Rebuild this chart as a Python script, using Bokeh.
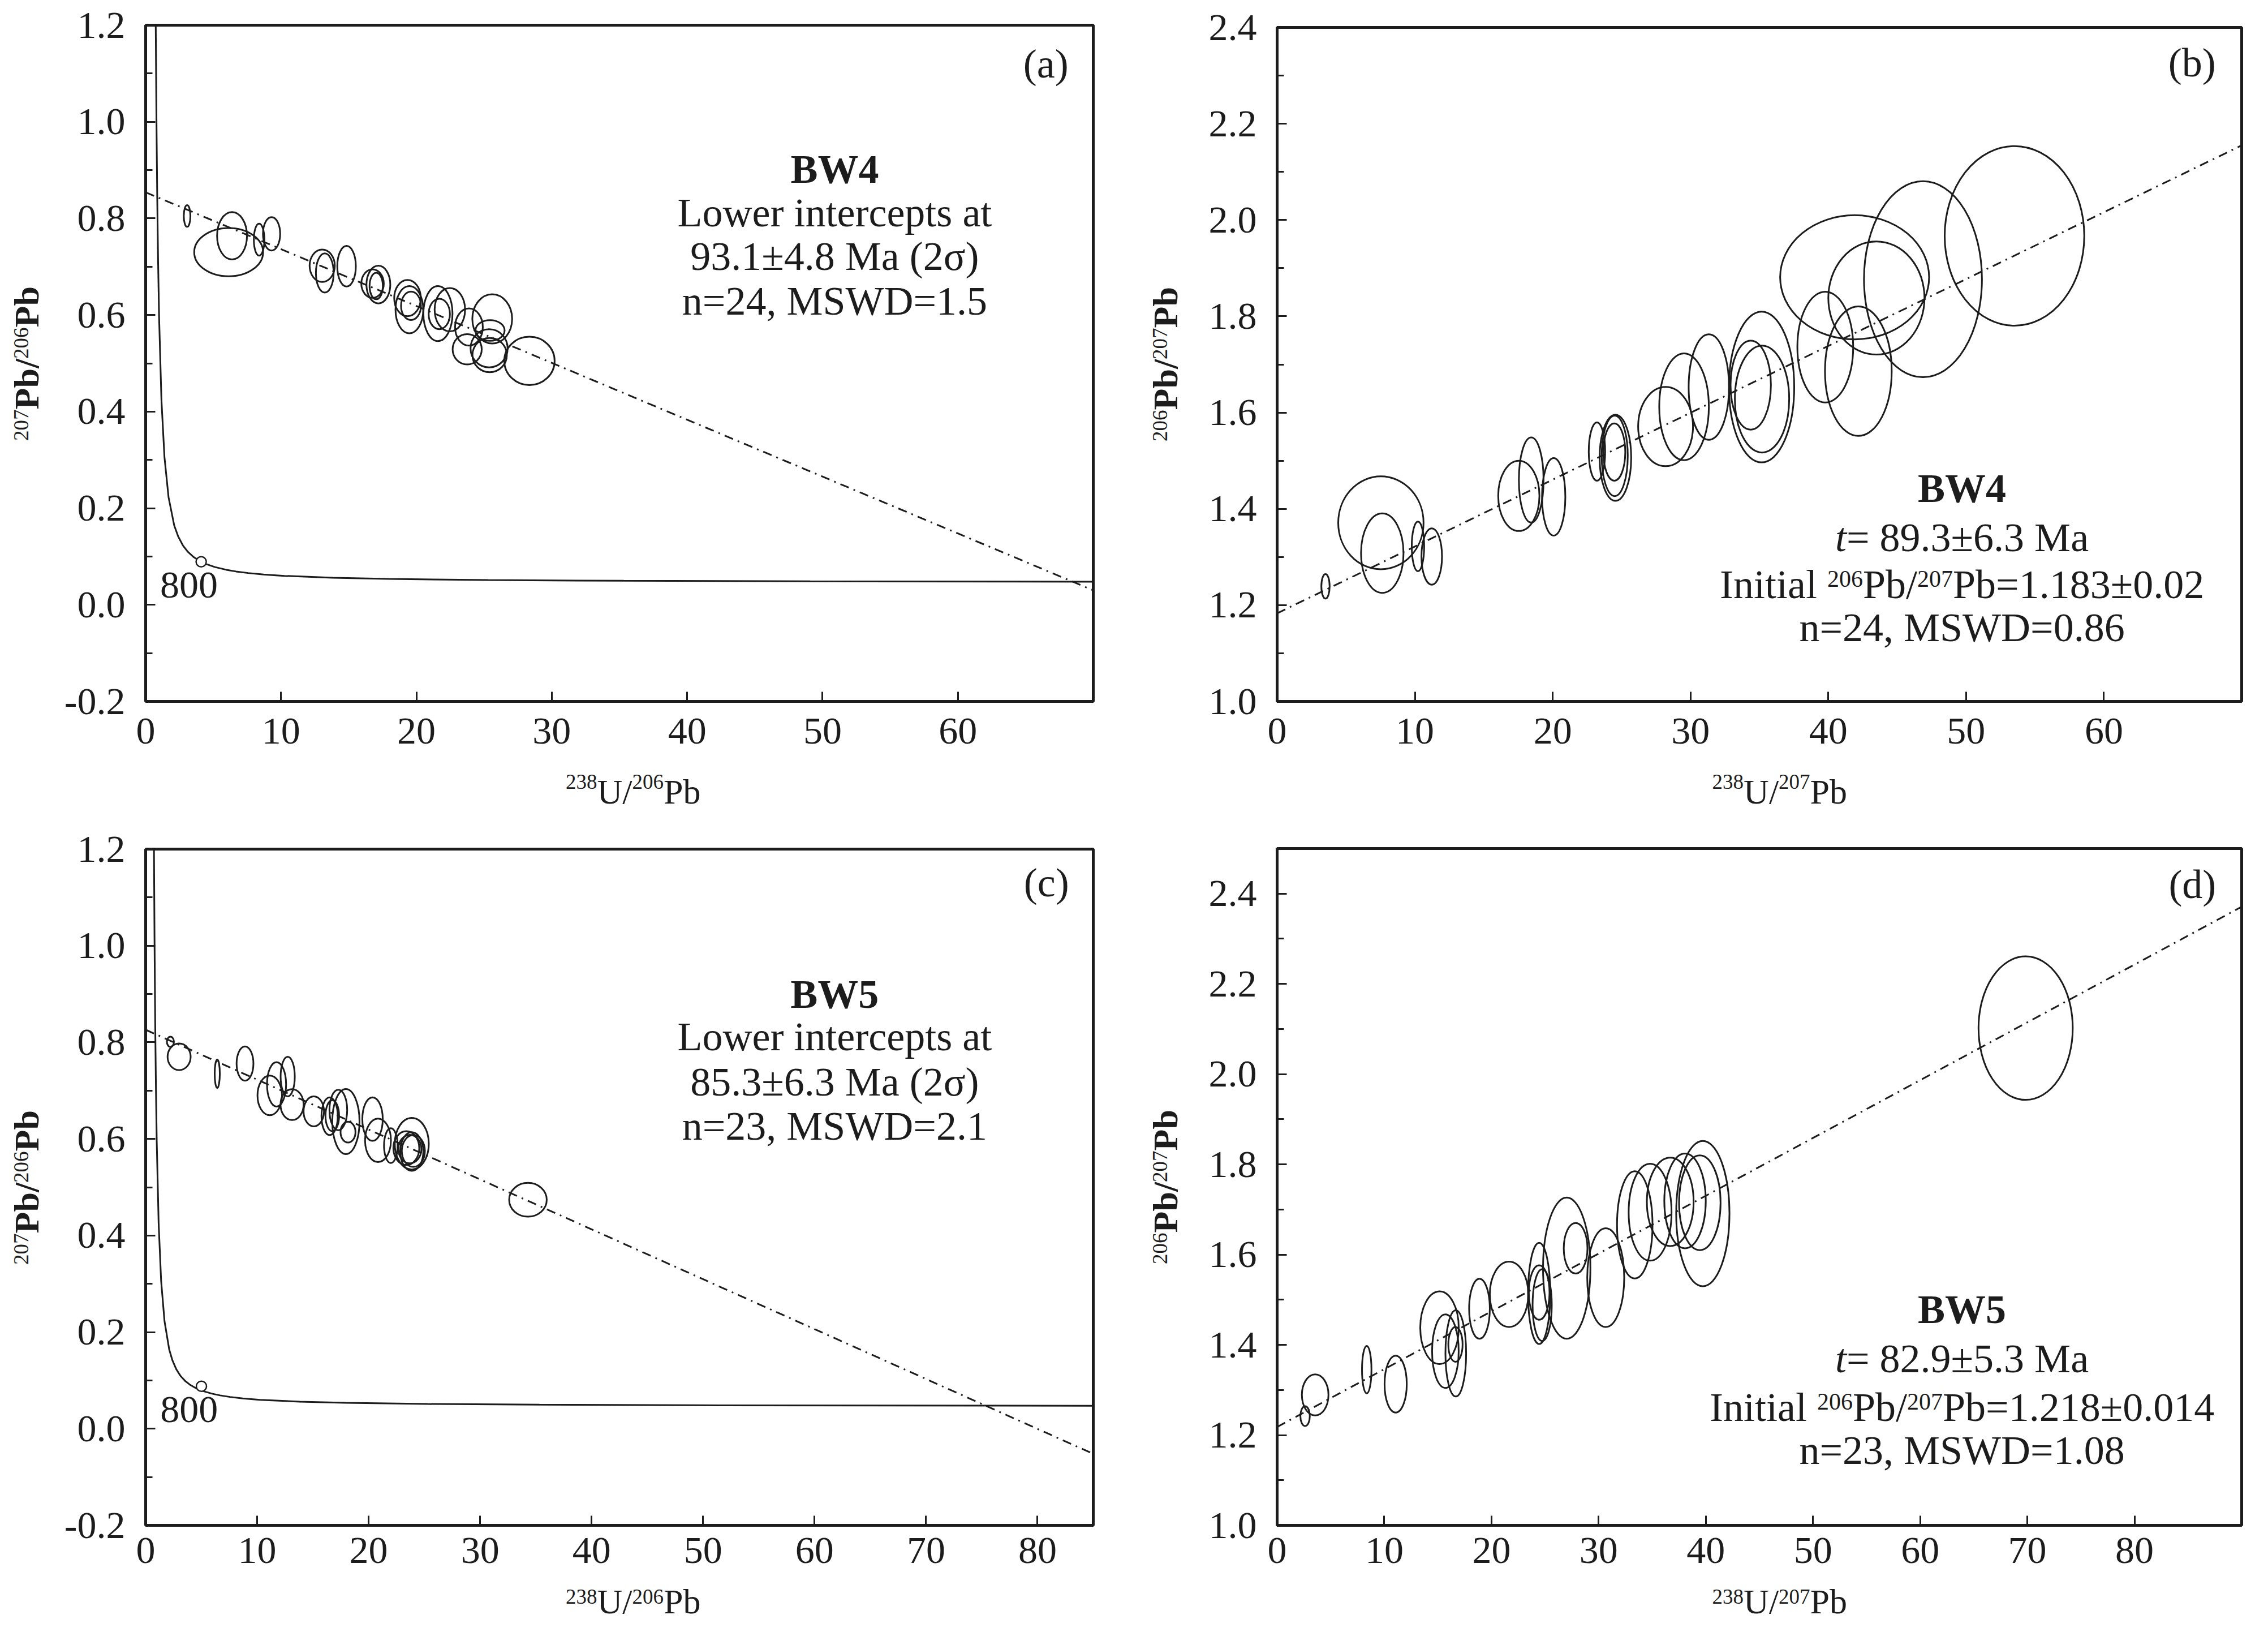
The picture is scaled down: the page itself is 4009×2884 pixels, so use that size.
import math
from bokeh.plotting import figure
from bokeh.models import Range1d, FixedTicker, NumeralTickFormatter, Label
from bokeh.layouts import column, row
from bokeh.embed import file_html
from bokeh.resources import INLINE
from bokeh.core.properties import value

FONT = "Liberation Serif"
INK = "#1c1c1c"

# ---------------- data ----------------
# Tera-Wasserburg concordia (238U/206Pb, 207Pb/206Pb)
conc_x = [0.651, 0.742, 0.795, 0.853, 0.918, 0.990, 1.163, 1.387, 1.688, 2.111, 2.394, 2.749,
          3.105, 3.550, 3.965, 4.476, 5.120, 5.960, 6.674, 7.568, 8.718, 10.25, 13.83, 17.92,
          25.29, 35.32, 49.09, 63.97, 85.46]
conc_y = [1.734, 1.207, 1.009, 0.845, 0.710, 0.597, 0.425, 0.306, 0.223, 0.164, 0.142, 0.123,
          0.110, 0.0987, 0.0912, 0.0843, 0.0781, 0.0725, 0.0690, 0.0658, 0.0628, 0.0599, 0.0559,
          0.0535, 0.0512, 0.0497, 0.0486, 0.0480, 0.0475]

# (a) BW4 Tera-Wasserburg
a_x = [3.06, 6.13, 6.38, 8.38, 9.30, 13.04, 13.23, 14.84, 16.76, 17.19, 17.03, 19.34, 19.48, 19.60,
       21.59, 22.47, 21.69, 23.88, 23.75, 25.60, 25.44, 25.37, 25.41, 28.35]
a_y = [0.805, 0.730, 0.764, 0.756, 0.768, 0.702, 0.687, 0.701, 0.665, 0.663, 0.660, 0.635, 0.611,
       0.619, 0.603, 0.611, 0.602, 0.575, 0.529, 0.592, 0.568, 0.531, 0.517, 0.505]
a_w = [0.49, 5.09, 2.21, 0.78, 1.27, 1.86, 1.31, 1.37, 1.66, 1.76, 0.98, 1.96, 2.05, 1.47, 2.15,
       2.25, 1.57, 2.05, 2.15, 2.94, 2.15, 2.74, 2.54, 3.72]
a_h = [0.045, 0.100, 0.098, 0.066, 0.069, 0.067, 0.081, 0.084, 0.059, 0.078, 0.055, 0.075, 0.098,
       0.059, 0.114, 0.090, 0.063, 0.077, 0.063, 0.102, 0.043, 0.079, 0.071, 0.100]
a_line_x = [0, 70]
a_line_y = [0.854, 0.030]
a_mark_x, a_mark_y = [4.1], [0.089]

# (b) BW4 isochron
b_x = [3.51, 7.53, 7.63, 10.22, 11.22, 17.54, 18.44, 20.07, 23.21, 24.55, 24.50, 24.47, 28.19,
       29.53, 31.33, 35.16, 34.37, 35.19, 39.78, 42.18, 41.91, 43.49, 46.87, 53.51]
b_y = [1.239, 1.371, 1.308, 1.322, 1.301, 1.427, 1.460, 1.425, 1.519, 1.506, 1.510, 1.518, 1.571,
       1.612, 1.653, 1.653, 1.657, 1.628, 1.736, 1.686, 1.881, 1.838, 1.877, 1.967]
b_w = [0.60, 6.19, 3.08, 0.90, 1.49, 2.99, 1.79, 1.69, 1.19, 2.29, 1.89, 1.59, 3.98, 3.60, 2.93,
       4.73, 2.93, 3.94, 4.05, 4.84, 10.81, 6.98, 8.56, 10.13]
b_h = [0.051, 0.193, 0.165, 0.103, 0.117, 0.146, 0.177, 0.161, 0.121, 0.179, 0.167, 0.119, 0.165,
       0.222, 0.219, 0.313, 0.185, 0.222, 0.230, 0.269, 0.258, 0.235, 0.407, 0.373]
b_line_x = [0, 70]
b_line_y = [1.183, 2.155]

# (c) BW5 Tera-Wasserburg
c_x = [2.22, 3.00, 6.42, 8.91, 11.13, 11.74, 12.74, 13.13, 15.08, 16.50, 17.28, 17.96, 18.15,
       20.35, 20.84, 21.99, 23.38, 23.87, 23.87, 24.01, 34.29, 16.74, 23.70]
c_y = [0.801, 0.770, 0.735, 0.756, 0.690, 0.713, 0.729, 0.671, 0.657, 0.647, 0.660, 0.636, 0.614,
       0.641, 0.597, 0.586, 0.581, 0.590, 0.574, 0.575, 0.474, 0.648, 0.579]
c_w = [0.63, 2.07, 0.46, 1.51, 2.20, 1.71, 1.27, 2.07, 1.83, 1.46, 1.59, 2.44, 1.34, 1.83, 2.32,
       1.22, 2.32, 3.05, 2.07, 2.07, 3.37, 1.22, 2.07]
c_h = [0.021, 0.055, 0.059, 0.071, 0.082, 0.092, 0.082, 0.064, 0.062, 0.078, 0.084, 0.135, 0.043,
       0.090, 0.090, 0.072, 0.070, 0.107, 0.080, 0.066, 0.070, 0.064, 0.059]
c_line_x = [0, 85]
c_line_y = [0.826, -0.052]
c_mark_x, c_mark_y = [5.0], [0.088]

# (d) BW5 isochron
d_x = [2.61, 3.55, 8.36, 11.06, 15.15, 15.70, 16.67, 16.64, 18.88, 21.64, 24.45, 24.45, 24.73,
       27.02, 27.85, 30.66, 33.37, 34.80, 36.68, 38.06, 39.72, 39.44, 69.84]
d_y = [1.242, 1.289, 1.345, 1.313, 1.438, 1.386, 1.381, 1.401, 1.480, 1.512, 1.514, 1.516, 1.488,
       1.570, 1.614, 1.549, 1.666, 1.694, 1.717, 1.719, 1.691, 1.715, 2.102]
d_w = [0.88, 2.48, 0.88, 2.07, 3.59, 2.48, 1.93, 1.33, 1.93, 3.59, 2.07, 1.93, 1.79, 4.42, 2.21,
       3.45, 3.31, 4.00, 4.36, 3.87, 4.97, 3.87, 8.79]
d_h = [0.044, 0.091, 0.105, 0.126, 0.161, 0.163, 0.191, 0.077, 0.133, 0.145, 0.224, 0.121, 0.159,
       0.313, 0.112, 0.219, 0.238, 0.215, 0.196, 0.210, 0.322, 0.210, 0.318]
d_line_x = [0, 90]
d_line_y = [1.218, 2.371]

# ticks
tw_xticks_a = [0, 10, 20, 30, 40, 50, 60]
tw_xticks_c = [0, 10, 20, 30, 40, 50, 60, 70, 80]
tw_yticks = [-0.2, 0.0, 0.2, 0.4, 0.6, 0.8, 1.0, 1.2]
tw_yminor = [-0.1, 0.1, 0.3, 0.5, 0.7, 0.9, 1.1]
iso_xticks_b = [0, 10, 20, 30, 40, 50, 60]
iso_xticks_d = [0, 10, 20, 30, 40, 50, 60, 70, 80]
iso_yticks = [1.0, 1.2, 1.4, 1.6, 1.8, 2.0, 2.2, 2.4]
iso_yminor = [1.1, 1.3, 1.5, 1.7, 1.9, 2.1, 2.3, 2.5]

# texts  (pieces: text, style, superscript?)
a_texts = ["Lower intercepts at", "93.1\u00b14.8 Ma (2\u03c3)", "n=24, MSWD=1.5"]
c_texts = ["Lower intercepts at", "85.3\u00b16.3 Ma (2\u03c3)", "n=23, MSWD=2.1"]
b_age = [("t", "italic", False), ("= 89.3\u00b16.3 Ma", "normal", False)]
d_age = [("t", "italic", False), ("= 82.9\u00b15.3 Ma", "normal", False)]
b_init = [("Initial ", "normal", False), ("206", "normal", True), ("Pb/", "normal", False),
          ("207", "normal", True), ("Pb=1.183\u00b10.02", "normal", False)]
d_init = [("Initial ", "normal", False), ("206", "normal", True), ("Pb/", "normal", False),
          ("207", "normal", True), ("Pb=1.218\u00b10.014", "normal", False)]
b_n = "n=24, MSWD=0.86"
d_n = "n=23, MSWD=1.08"

TW_XLABEL = [("238", "normal", True), ("U/", "normal", False), ("206", "normal", True), ("Pb", "normal", False)]
TW_YLABEL = [("207", "normal", True), ("Pb/", "bold", False), ("206", "normal", True), ("Pb", "bold", False)]
ISO_XLABEL = [("238", "normal", True), ("U/", "normal", False), ("207", "normal", True), ("Pb", "normal", False)]
ISO_YLABEL = [("206", "normal", True), ("Pb/", "bold", False), ("207", "normal", True), ("Pb", "bold", False)]

FS_TICK = "68px"
FS_TEXT = 72
FS_TITLE = 62
FS_TITLE_SUP = 37

# Times-like advance widths (per 1000 em) for laying out composed labels
W_REG = {' ': 250, '(': 333, ')': 333, ',': 250, '-': 333, '.': 250, '/': 278, '=': 564,
         '\u00b1': 549, '\u03c3': 550, 'B': 667, 'D': 722, 'I': 333, 'L': 611, 'M': 889,
         'P': 556, 'S': 556, 'U': 722, 'W': 944, 'a': 444, 'b': 500, 'c': 444, 'e': 444,
         'i': 278, 'l': 278, 'n': 500, 'p': 500, 'r': 333, 's': 389, 't': 278}
W_BOLD = {'P': 611, 'b': 556, 'W': 1000, '/': 278}


def text_width(s, size, style):
    tot = 0
    for ch in s:
        if style == "bold" and ch in W_BOLD:
            tot += W_BOLD[ch]
        else:
            tot += W_REG.get(ch, 500)
    return tot * size / 1000.0


def rich(p, x, y, pieces, size, sup_size, raise_px, baseline="middle", vertical=False,
         along=0.0, across=0.0):
    widths = [text_width(t, sup_size if sup else size, st) for t, st, sup in pieces]
    pos = along - sum(widths) / 2.0
    for (t, st, sup), w in zip(pieces, widths):
        fs = sup_size if sup else size
        lift = raise_px if sup else 0
        if vertical:
            # each piece centred on its own spot, so its box stays inside the strip
            xo, yo, ang, al, bl = across - lift, pos + w / 2.0, math.pi / 2, "center", "middle"
        else:
            xo, yo, ang, al, bl = pos, across + lift, 0.0, "left", baseline
        p.add_layout(Label(x=x, y=y, x_units="data", y_units="data", text=t,
                           text_font=FONT, text_font_size="%dpx" % fs, text_font_style=st,
                           text_color=INK, text_align=al, text_baseline=bl,
                           angle=ang, x_offset=xo, y_offset=yo))
        pos += w


def make_fig(xr, yr, w, h, bl, br, bt, bb, xticks, yticks, yminor, xstandoff):
    p = figure(width=w, height=h, x_range=Range1d(*xr), y_range=Range1d(*yr),
               output_backend="svg", toolbar_location=None,
               min_border_left=bl, min_border_right=br, min_border_top=bt, min_border_bottom=bb)
    p.grid.visible = False
    p.background_fill_color = "white"
    p.border_fill_color = "white"
    p.outline_line_color = INK
    p.outline_line_width = 5
    p.outline_line_alpha = 1.0
    p.xaxis.ticker = FixedTicker(ticks=xticks)
    p.yaxis.ticker = FixedTicker(ticks=yticks, minor_ticks=yminor)
    p.yaxis.formatter = NumeralTickFormatter(format="0.0")
    for ax in (p.xaxis, p.yaxis):
        ax.axis_line_color = None
        ax.major_tick_in = 17
        ax.major_tick_out = 0
        ax.minor_tick_in = 12
        ax.minor_tick_out = 0
        ax.major_tick_line_width = 3
        ax.minor_tick_line_width = 3
        ax.major_tick_line_color = INK
        ax.minor_tick_line_color = INK
        ax.major_label_text_font = FONT
        ax.major_label_text_font_size = FS_TICK
        ax.major_label_text_color = INK
    p.xaxis.minor_tick_line_color = None
    p.xaxis.major_label_standoff = xstandoff
    p.yaxis.major_label_standoff = 36
    return p


def strip(w, h):
    """A bare drawing strip (no axes) that holds an axis title with real superscripts."""
    s = figure(width=w, height=h, x_range=Range1d(0, w), y_range=Range1d(0, h),
               x_axis_type=None, y_axis_type=None, output_backend="svg",
               toolbar_location=None, min_border=0, title=None)
    s.outline_line_color = None
    s.background_fill_color = "white"
    s.border_fill_color = "white"
    return s


def x_title(w, h, xc, yb, pieces, baseline="alphabetic", raise_px=17):
    s = strip(w, h)
    rich(s, xc, yb, pieces, FS_TITLE, FS_TITLE_SUP, raise_px, baseline=baseline)
    return s


def y_title(w, h, xmid, yc, pieces):
    s = strip(w, h)
    rich(s, xmid, yc, pieces, FS_TITLE, FS_TITLE_SUP, 9, vertical=True)
    return s


def add_ellipses(p, xs, ys, ws, hs):
    p.ellipse(x=xs, y=ys, width=ws, height=hs, fill_color=None, line_color=INK, line_width=3)


def add_line(p, xs, ys):
    p.line(x=xs, y=ys, line_color=INK, line_width=3, line_dash="16 9 3 9")


def txt(p, x, y, t, style="normal", size=FS_TEXT):
    p.text(x=[x], y=[y], text=[t], text_font=value(FONT), text_font_size="%dpx" % size,
           text_font_style=style, text_align="center", text_baseline="middle", text_color=INK)


# ---------------- (a) ----------------
pa = make_fig((0, 70), (-0.2, 1.2), 1862, 1353, 134, 40, 44, 114,
              tw_xticks_a, tw_yticks, tw_yminor, 30)
pa.line(x=conc_x, y=conc_y, line_color=INK, line_width=3)
add_line(pa, a_line_x, a_line_y)
add_ellipses(pa, a_x, a_y, a_w, a_h)
pa.scatter(x=a_mark_x, y=a_mark_y, marker="circle", size=18, fill_color="white",
           line_color=INK, line_width=2.5)
txt(pa, 3.2, 0.041, "800", size=68)
txt(pa, 50.9, 0.902, "BW4", style="bold")
for i, t in enumerate(a_texts):
    txt(pa, 50.9, [0.812, 0.721, 0.629][i], t)
txt(pa, 66.5, 1.12, "(a)")
xa = x_title(1862, 87, 958, 42, TW_XLABEL)
ya = y_title(110, 1440, 46, 798, TW_YLABEL)

# ---------------- (b) ----------------
pb = make_fig((0, 70), (1.0, 2.4), 1879, 1353, 147, 27, 48, 114,
              iso_xticks_b, iso_yticks, iso_yminor, 30)
add_line(pb, b_line_x, b_line_y)
add_ellipses(pb, b_x, b_y, b_w, b_h)
txt(pb, 49.7, 1.442, "BW4", style="bold")
rich(pb, 49.7, 1.340, b_age, FS_TEXT, 42, 10)
rich(pb, 49.7, 1.243, b_init, FS_TEXT, 42, 10)
txt(pb, 49.7, 1.153, b_n)
txt(pb, 66.4, 2.326, "(b)")
xb = x_title(1879, 87, 979, 42, ISO_XLABEL)
yb = y_title(138, 1440, 87, 797, ISO_YLABEL)

# ---------------- (c) ----------------
pc = make_fig((0, 85), (-0.2, 1.2), 1862, 1355, 134, 40, 60, 100,
              tw_xticks_c, tw_yticks, tw_yminor, 22)
pc.line(x=conc_x, y=conc_y, line_color=INK, line_width=3)
add_line(pc, c_line_x, c_line_y)
add_ellipses(pc, c_x, c_y, c_w, c_h)
pc.scatter(x=c_mark_x, y=c_mark_y, marker="circle", size=18, fill_color="white",
           line_color=INK, line_width=2.5)
txt(pc, 3.9, 0.039, "800", size=68)
txt(pc, 61.8, 0.900, "BW5", style="bold")
for i, t in enumerate(c_texts):
    txt(pc, 61.8, [0.812, 0.718, 0.627][i], t)
txt(pc, 80.8, 1.13, "(c)")
xc = x_title(1862, 69, 958, 34.5, TW_XLABEL, baseline="middle", raise_px=9)
yc = y_title(110, 1424, 46, 766, TW_YLABEL)

# ---------------- (d) ----------------
pd_ = make_fig((0, 90), (1.0, 2.5), 1879, 1355, 147, 27, 59, 100,
               iso_xticks_d, iso_yticks, iso_yminor, 22)
add_line(pd_, d_line_x, d_line_y)
add_ellipses(pd_, d_x, d_y, d_w, d_h)
txt(pd_, 63.9, 1.478, "BW5", style="bold")
rich(pd_, 63.9, 1.369, d_age, FS_TEXT, 42, 10)
rich(pd_, 63.9, 1.262, d_init, FS_TEXT, 42, 10)
txt(pd_, 63.9, 1.166, d_n)
txt(pd_, 85.4, 2.42, "(d)")
xd = x_title(1879, 69, 979, 34.5, ISO_XLABEL, baseline="middle", raise_px=9)
yd = y_title(138, 1424, 87, 767, ISO_YLABEL)

layout = column(
    row(ya, column(pa, xa), yb, column(pb, xb)),
    row(yc, column(pc, xc), yd, column(pd_, xd)),
)
open("out.html", "w").write(file_html(layout, INLINE))
